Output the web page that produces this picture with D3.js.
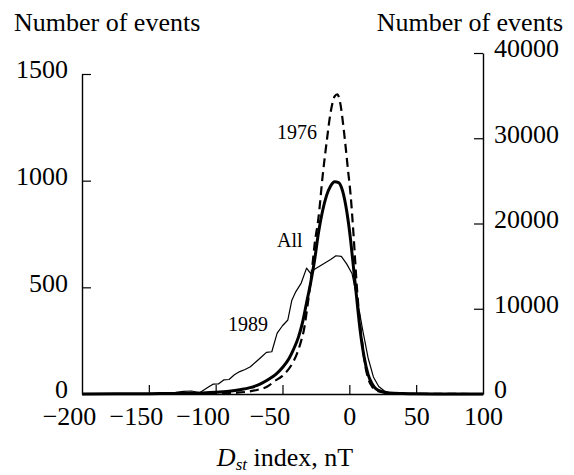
<!DOCTYPE html>
<html>
<head>
<meta charset="utf-8">
<script src="https://cdn.jsdelivr.net/npm/d3@7"></script>
<style>
  html, body { margin: 0; padding: 0; background: #fff; }
  svg { display: block; }
  text { font-family: "Liberation Serif", "Times New Roman", serif; fill: #000; }
</style>
</head>
<body>
<svg id="chart" width="574" height="475"></svg>
<script>
// ---- data ----
const xTicks = [-200, -150, -100, -50, 0, 50, 100];
const leftTicks = [0, 500, 1000, 1500];
const rightTicks = [0, 10000, 20000, 30000, 40000];

// "All" (right axis)
const allX = [-200, -175, -150, -125, -110, -100, -90, -80, -75, -70, -65, -60, -55, -50, -45, -42, -38, -35, -32, -29, -26, -23, -20, -17, -14, -11, -8, -5, -2, 1, 3, 5, 8, 11, 14, 17, 20, 25, 30, 40, 50, 75, 100];
const allY = [0, 20, 40, 60, 120, 200, 330, 550, 720, 950, 1300, 1750, 2300, 3100, 4200, 5150, 6700, 8400, 10700, 13000, 15700, 19000, 21500, 23300, 24400, 24900, 24800, 23800, 21500, 18000, 15000, 12000, 7600, 4400, 2300, 1200, 600, 250, 120, 50, 20, 5, 0];

// 1976 (left axis)
const y1976X = [-200, -150, -120, -100, -90, -84, -75, -69, -60, -57, -50, -46, -42, -39, -36, -34, -31, -28, -26, -23, -20, -17, -14, -11, -9, -7, -4, -1, 1, 3, 6, 8, 10, 12, 14, 17, 20, 25, 30, 40, 100];
const y1976Y = [0, 0, 1, 2, 4, 6, 12, 19, 40, 56, 85, 112, 150, 192, 250, 300, 427, 580, 700, 830, 1020, 1180, 1320, 1395, 1405, 1370, 1230, 1050, 930, 760, 470, 330, 220, 130, 75, 35, 18, 8, 3, 1, 0];

// 1989 (left axis)
const y1989X = [-200, -180, -160, -140, -130, -124, -118, -112, -106, -102, -98, -94, -90, -86, -82, -78, -74, -70, -66, -62, -58, -54, -50, -46, -43, -40, -36, -32, -29, -26, -22, -18, -14, -10, -6, -2, 2, 6, 10, 14, 18, 22, 26, 30, 40, 60, 100];
const y1989Y = [0, 0, 1, 3, 8, 12, 14, 6, 30, 46, 47, 66, 68, 90, 105, 115, 128, 150, 172, 195, 198, 285, 320, 347, 440, 480, 520, 590, 565, 585, 600, 615, 630, 648, 645, 610, 565, 440, 300, 170, 80, 35, 15, 6, 2, 0, 0];

// ---- layout ----
const svg = d3.select("#chart");
const x = d3.scaleLinear().domain([-200, 100]).range([82, 483]);
const yL = d3.scaleLinear().domain([0, 1500]).range([394, 74]);
const yR = d3.scaleLinear().domain([0, 40000]).range([394, 53]);
const fs = 26;
const plain = d3.format("d");

// bottom axis
const gx = svg.append("g").attr("transform", "translate(0,394)")
  .call(d3.axisBottom(x).tickValues(xTicks).tickSizeInner(-9).tickSizeOuter(0)
    .tickFormat(d => d < 0 ? "\u2212" + Math.abs(d) : String(d)).tickPadding(13));
gx.select(".domain").attr("stroke-width", 1.4);
gx.selectAll(".tick line").attr("stroke-width", 1.2)
  .filter(d => d === -200 || d === 100).remove();
gx.selectAll("text").attr("font-size", fs).attr("font-family", "Liberation Serif")
  .attr("dx", d => d < 0 ? "-0.5em" : null);

// left axis
const gl = svg.append("g").attr("transform", "translate(82,0)")
  .call(d3.axisLeft(yL).tickValues(leftTicks).tickFormat(plain).tickSizeInner(-9).tickSizeOuter(0).tickPadding(14));
gl.select(".domain").attr("stroke-width", 1.4);
gl.selectAll(".tick line").attr("stroke-width", 1.2).filter(d => d === 0).remove();
gl.selectAll("text").attr("font-size", fs).attr("font-family", "Liberation Serif").attr("dy", "0.15em");

// right axis
const gr = svg.append("g").attr("transform", "translate(483,0)")
  .call(d3.axisRight(yR).tickValues(rightTicks).tickFormat(plain).tickSizeInner(-9).tickSizeOuter(0).tickPadding(11));
gr.select(".domain").attr("stroke-width", 1.4);
gr.selectAll(".tick line").attr("stroke-width", 1.2).filter(d => d === 0).remove();
gr.selectAll("text").attr("font-size", fs).attr("font-family", "Liberation Serif").attr("dy", "0.15em");

// curves
const lineAll = d3.line().x((d, i) => x(allX[i])).y(d => yR(d)).curve(d3.curveMonotoneX);
svg.append("path").attr("d", lineAll(allY)).attr("fill", "none")
  .attr("stroke", "#000").attr("stroke-width", 3).attr("stroke-linejoin", "round");

const line76 = d3.line().x((d, i) => x(y1976X[i])).y(d => yL(d)).curve(d3.curveMonotoneX);
svg.append("path").attr("d", line76(y1976Y)).attr("fill", "none")
  .attr("stroke", "#000").attr("stroke-width", 2.2).attr("stroke-dasharray", "9,5");

const line89 = d3.line().x((d, i) => x(y1989X[i])).y(d => yL(d));
svg.append("path").attr("d", line89(y1989Y)).attr("fill", "none")
  .attr("stroke", "#000").attr("stroke-width", 1.2).attr("stroke-linejoin", "round");

// curve labels
svg.append("text").attr("x", 277).attr("y", 139).attr("font-size", 20).text("1976");
svg.append("text").attr("x", 277).attr("y", 247).attr("font-size", 20).text("All");
svg.append("text").attr("x", 228).attr("y", 331).attr("font-size", 20).text("1989");

// axis titles
svg.append("text").attr("x", 14).attr("y", 31).attr("font-size", fs).text("Number of events");
svg.append("text").attr("x", 563).attr("y", 31).attr("font-size", fs).attr("text-anchor", "end").text("Number of events");

const xt = svg.append("text").attr("x", 285).attr("y", 466).attr("font-size", fs).attr("text-anchor", "middle");
xt.append("tspan").attr("font-style", "italic").text("D");
xt.append("tspan").attr("font-style", "italic").attr("font-size", 17).attr("dy", 4).text("st");
xt.append("tspan").attr("dy", -4).text(" index, nT");
</script>
</body>
</html>
